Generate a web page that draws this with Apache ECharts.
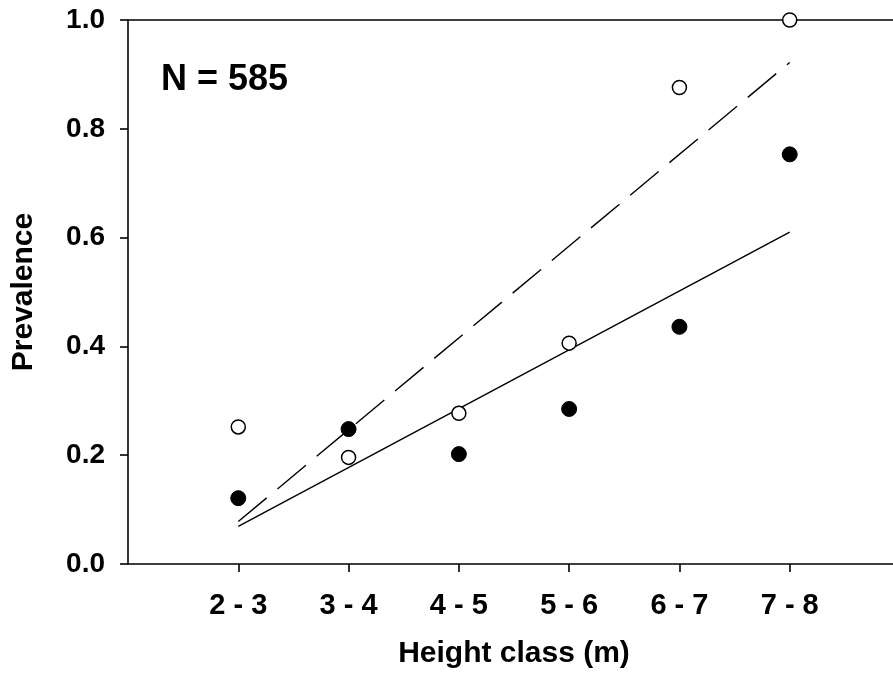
<!DOCTYPE html>
<html>
<head>
<meta charset="utf-8">
<script src="https://cdn.jsdelivr.net/npm/echarts@6/dist/echarts.min.js"></script>
<style>
  html, body { margin: 0; padding: 0; background: #ffffff; }
  #chart { width: 893px; height: 679px; }
</style>
</head>
<body>
<div id="chart"></div>
<script>
// Height classes along the x axis
const heightClasses = ['2 - 3', '3 - 4', '4 - 5', '5 - 6', '6 - 7', '7 - 8'];
// Prevalence per height class, open-circle group
const openValues = [0.252, 0.196, 0.277, 0.406, 0.876, 1.0];
// Prevalence per height class, filled-circle group
const filledValues = [0.121, 0.248, 0.202, 0.285, 0.436, 0.753];
// Fitted trend lines, values at the first and last height class
const openFit = [0.078, 0.922];
const filledFit = [0.069, 0.610];
// Y axis ticks
const yTicks = [0, 0.2, 0.4, 0.6, 0.8, 1.0];
const sampleLabel = 'N = 585';

const FONT = '"Liberation Sans", Arial, Helvetica, sans-serif';
const classPos = heightClasses.map((_, i) => i + 1);

const toPoints = vals => vals.map((v, i) => [classPos[i], v]);
const fitPoints = fit => [[classPos[0], fit[0]], [classPos[classPos.length - 1], fit[1]]];

const chart = echarts.init(document.getElementById('chart'), null, { renderer: 'canvas' });

const axisLineStyle = { color: '#000', width: 1.6 };

chart.setOption({
  backgroundColor: '#ffffff',
  animation: false,
  // plot frame runs on past the right edge of the canvas
  grid: { left: 128, top: 20, width: 772, height: 544, outerBoundsMode: 'none', containLabel: false },
  xAxis: [
    {
      type: 'value',
      min: 0,
      max: 7,
      interval: 1,
      splitLine: { show: false },
      axisLine: { show: true, onZero: false, lineStyle: axisLineStyle },
      axisTick: {
        show: true, inside: false, length: 8,
        customValues: classPos,
        lineStyle: axisLineStyle
      },
      axisLabel: {
        customValues: classPos,
        formatter: v => heightClasses[v - 1] || '',
        color: '#000', fontFamily: FONT, fontWeight: 'bold', fontSize: 29,
        margin: 27
      },
      name: 'Height class (m)',
      nameLocation: 'middle',
      nameGap: 75,
      nameTextStyle: { color: '#000', fontFamily: FONT, fontWeight: 'bold', fontSize: 30 }
    },
    {
      type: 'value',
      position: 'top',
      min: 0,
      max: 7,
      splitLine: { show: false },
      axisLine: { show: true, onZero: false, lineStyle: axisLineStyle },
      axisTick: { show: false },
      axisLabel: { show: false }
    }
  ],
  yAxis: {
    type: 'value',
    min: 0,
    max: 1,
    interval: 0.2,
    splitLine: { show: false },
    axisLine: { show: true, onZero: false, lineStyle: axisLineStyle },
    axisTick: { show: true, inside: false, length: 8, customValues: yTicks, lineStyle: axisLineStyle },
    axisLabel: {
      customValues: yTicks,
      formatter: v => v.toFixed(1),
      color: '#000', fontFamily: FONT, fontWeight: 'bold', fontSize: 28,
      margin: 23
    },
    name: 'Prevalence',
    nameLocation: 'middle',
    nameGap: 89,
    nameTextStyle: { color: '#000', fontFamily: FONT, fontWeight: 'bold', fontSize: 30 }
  },
  graphic: [
    {
      type: 'text',
      left: 161,
      top: 62,
      style: {
        text: sampleLabel,
        fill: '#000',
        font: 'bold 36px ' + FONT
      }
    }
  ],
  series: [
    {
      name: 'Open fit',
      type: 'line',
      data: fitPoints(openFit),
      symbol: 'none',
      silent: true,
      lineStyle: { color: '#000', width: 1.4, type: [37, 14] },
      z: 2
    },
    {
      name: 'Filled fit',
      type: 'line',
      data: fitPoints(filledFit),
      symbol: 'none',
      silent: true,
      lineStyle: { color: '#000', width: 1.4, type: 'solid' },
      z: 2
    },
    {
      name: 'Filled',
      type: 'scatter',
      data: toPoints(filledValues),
      symbol: 'circle',
      symbolSize: 15,
      clip: false,
      itemStyle: { color: '#000', borderColor: '#000', borderWidth: 1, opacity: 1 },
      z: 3
    },
    {
      name: 'Open',
      type: 'scatter',
      data: toPoints(openValues),
      symbol: 'circle',
      symbolSize: 14,
      clip: false,
      itemStyle: { color: '#fff', borderColor: '#000', borderWidth: 1.5, opacity: 1 },
      z: 4
    }
  ]
});
</script>
</body>
</html>
